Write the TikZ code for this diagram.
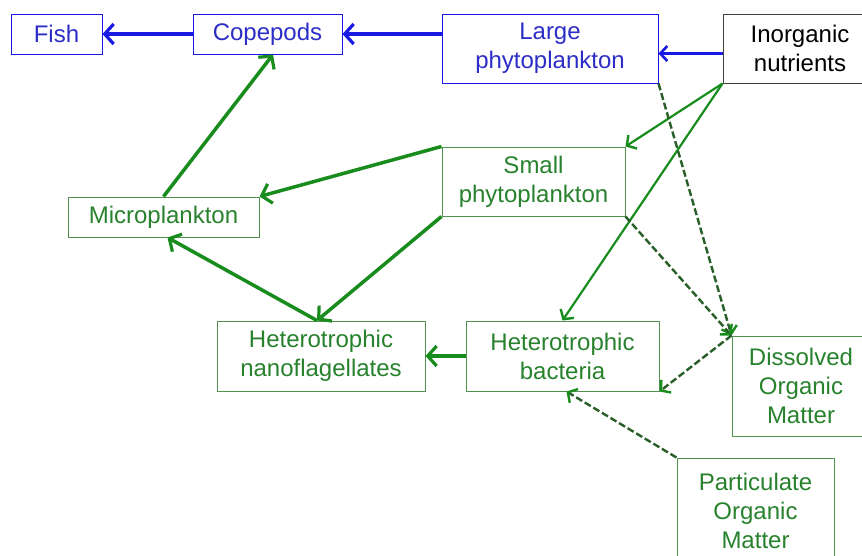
\documentclass[tikz,border=0pt]{standalone}
\usepackage{fontspec}
\setmainfont{Liberation Sans}
\usetikzlibrary{arrows.meta,calc}
\definecolor{bl}{RGB}{25,25,230}
\definecolor{bltext}{RGB}{45,45,200}
\definecolor{gn}{RGB}{25,140,30}
\definecolor{gntext}{RGB}{40,130,45}
\definecolor{gnbox}{RGB}{80,145,80}
\definecolor{gndash}{RGB}{40,95,40}
\begin{document}
\begin{tikzpicture}[x=1pt,y=-1pt,
  box/.style={draw, line width=1pt, rectangle, inner sep=0pt, align=center,
    font=\fontsize{24}{29}\selectfont},
  bbox/.style={box, draw=bl, text=bltext},
  gbox/.style={box, draw=gnbox, text=gntext},
  kbox/.style={box, draw=black!75, text=black},
  bthick/.style={draw=bl, line width=3.5pt, -{Straight Barb[length=9pt,width=20pt,line width=3.2pt]}},
  bthin/.style={draw=bl, line width=3pt, -{Straight Barb[length=7pt,width=15pt,line width=2.6pt]}},
  gthick/.style={draw=gn, line width=3.5pt, -{Straight Barb[length=9pt,width=20pt,line width=3.2pt]}},
  gthin/.style={draw=gn, line width=2.2pt, -{Straight Barb[length=7pt,width=16pt,line width=2.4pt]}},
  gdash/.style={draw=gndash, line width=2.4pt, dash pattern=on 7pt off 3pt,
    -{Straight Barb[length=7pt,width=16pt,line width=2.4pt,color=gn]}},
]
\fill[white] (0,0) rectangle (862,555);
\useasboundingbox (0,0) rectangle (862,555);

\node[bbox, minimum width=91pt, minimum height=40pt] (fish) at (56.5,34) {Fish};
\node[bbox, minimum width=149pt, minimum height=40pt] (cope) at (267.5,34) {Copepods};
\node[bbox, minimum width=216pt, minimum height=69pt] (large) at (550,48.5) {Large\\phytoplankton};
\node[kbox, minimum width=154pt, minimum height=69pt] (inorg) at (800,48.5) {Inorganic\\nutrients};
\node[gbox, minimum width=183pt, minimum height=69pt] (small) at (533.5,181.5) {Small\\phytoplankton};
\node[gbox, minimum width=191pt, minimum height=40pt] (micro) at (163.5,217) {Microplankton};
\node[gbox, minimum width=208pt, minimum height=70pt] (nano) at (321,356) {Heterotrophic\\nanoflagellates};
\node[gbox, minimum width=193pt, minimum height=70pt] (bact) at (562.5,356) {Heterotrophic\\bacteria};
\node[gbox, minimum width=138pt, minimum height=100pt] (dom) at (801,386) {Dissolved\\Organic\\Matter};
\node[gbox, minimum width=157pt, minimum height=106pt] (pom) at (755.5,511) {Particulate\\Organic\\Matter};

\draw[bthick] (cope.west) -- (fish.east);
\draw[bthick] (large.west |- cope.east) -- (cope.east);
\draw[bthin] ([yshift=-5pt]inorg.west) -- ([yshift=-5pt]large.east);

\draw[gthick] (micro.north) -- ([xshift=5.5pt]cope.south);
\draw[gthick] (small.north west) -- (micro.north east);
\draw[gthick] (small.south west) -- ([xshift=-4pt]nano.north);
\draw[gthick] ([xshift=-4pt]nano.north) -- ([xshift=4pt]micro.south);
\draw[gthick] (bact.west) -- (nano.east);
\draw[gthin] (inorg.south west) -- (small.north east);
\draw[gthin] (inorg.south west) -- (bact.north);

\draw[gdash] (large.south east) -- (dom.north west);
\draw[gdash] (small.south east) -- (dom.north west);
\draw[gdash] (dom.north west) -- (bact.south east);
\draw[gdash] (pom.north west) -- ([xshift=4pt]bact.south);
\end{tikzpicture}
\end{document}
